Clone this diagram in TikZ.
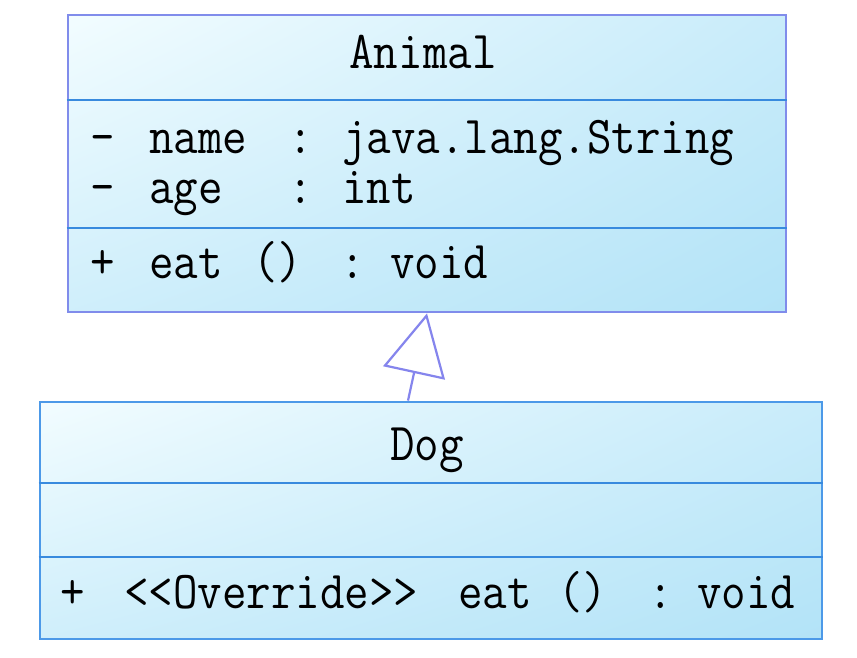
\documentclass[tikz,border=0pt]{standalone}
\usepackage{graphicx}
\usetikzlibrary{arrows.meta,shadings}
\definecolor{BorderClr}{rgb}{0.50,0.55,0.92}
\definecolor{DogBorderClr}{rgb}{0.30,0.60,0.91}
\definecolor{DividerClr}{rgb}{0.22,0.54,0.87}
\definecolor{ArrowClr}{rgb}{0.52,0.52,0.93}
\definecolor{PaleClr}{rgb}{0.95,0.99,1}
\definecolor{SkyClr}{rgb}{0.70,0.89,0.97}
\newcommand{\umlText}[1]{\scalebox{1}[1.12]{#1}}

\begin{document}
\begin{tikzpicture}[x=1pt,y=-1pt,
  classbox/.style={rectangle,inner sep=0pt,line width=2.8pt,shade,
    upper left=PaleClr,upper right=SkyClr!65!PaleClr,
    lower left=SkyClr!55!PaleClr,lower right=SkyClr},
  member/.style={anchor=base west,inner sep=0pt,
    font=\fontsize{47.6}{50}\selectfont\ttfamily},
  title/.style={member,anchor=base},
  divider/.style={line width=2.8pt,color=DividerClr},
  generalize/.style={line width=2.2pt,color=ArrowClr,
    -{Triangle[open,length=61pt,width=63pt]}}]
\path[fill=white] (0,0) rectangle (857,657);
\useasboundingbox (0,0) rectangle (857,657);

% The two class boxes.
\node[classbox,draw=BorderClr,minimum width=718,minimum height=297] (animal) at (427,163.5) {};
\node[classbox,draw=DogBorderClr,minimum width=782,minimum height=237] (dog) at (431,520.5) {};

% Compartments.
\draw[divider] (animal.west |- 0,100) -- (animal.east |- 0,100);
\draw[divider] (animal.west |- 0,228) -- (animal.east |- 0,228);
\draw[divider] (dog.west |- 0,483) -- (dog.east |- 0,483);
\draw[divider] (dog.west |- 0,557) -- (dog.east |- 0,557);

% Animal
\node[title] (animal title) at (423,68) {\umlText{Animal}};
\node[member] (name vis) at (90,153) {\umlText{-}};
\node[member] (name attr) at (149,153) {\umlText{name}};
\node[member] (name colon) at (288,153) {\umlText{:}};
\node[member] (name type) at (342,153) {\umlText{java.lang.String}};
\node[member] (age vis) at (90,203) {\umlText{-}};
\node[member] (age attr) at (149,203) {\umlText{age}};
\node[member] (age colon) at (288,203) {\umlText{:}};
\node[member] (age type) at (342,203) {\umlText{int}};
\node[member] (eat vis) at (90,278) {\umlText{+}};
\node[member] (eat op) at (149,278) {\umlText{eat}};
\node[member] (eat args) at (253,278) {\umlText{()}};
\node[member] (eat colon) at (340,278) {\umlText{:}};
\node[member] (eat type) at (390,278) {\umlText{void}};

% Dog
\node[title] (dog title) at (427,460) {\umlText{Dog}};
\node[member] (over vis) at (60,608) {\umlText{+}};
\node[member] (over stereo) at (124,608) {\umlText{<<Override>>}};
\node[member] (over op) at (458,608) {\umlText{eat}};
\node[member] (over args) at (558,608) {\umlText{()}};
\node[member] (over colon) at (648,608) {\umlText{:}};
\node[member] (over type) at (697,608) {\umlText{void}};

% Generalization.
\draw[generalize] ([xshift=-23pt]dog.north) -- (animal.south);

\end{tikzpicture}
\end{document}
